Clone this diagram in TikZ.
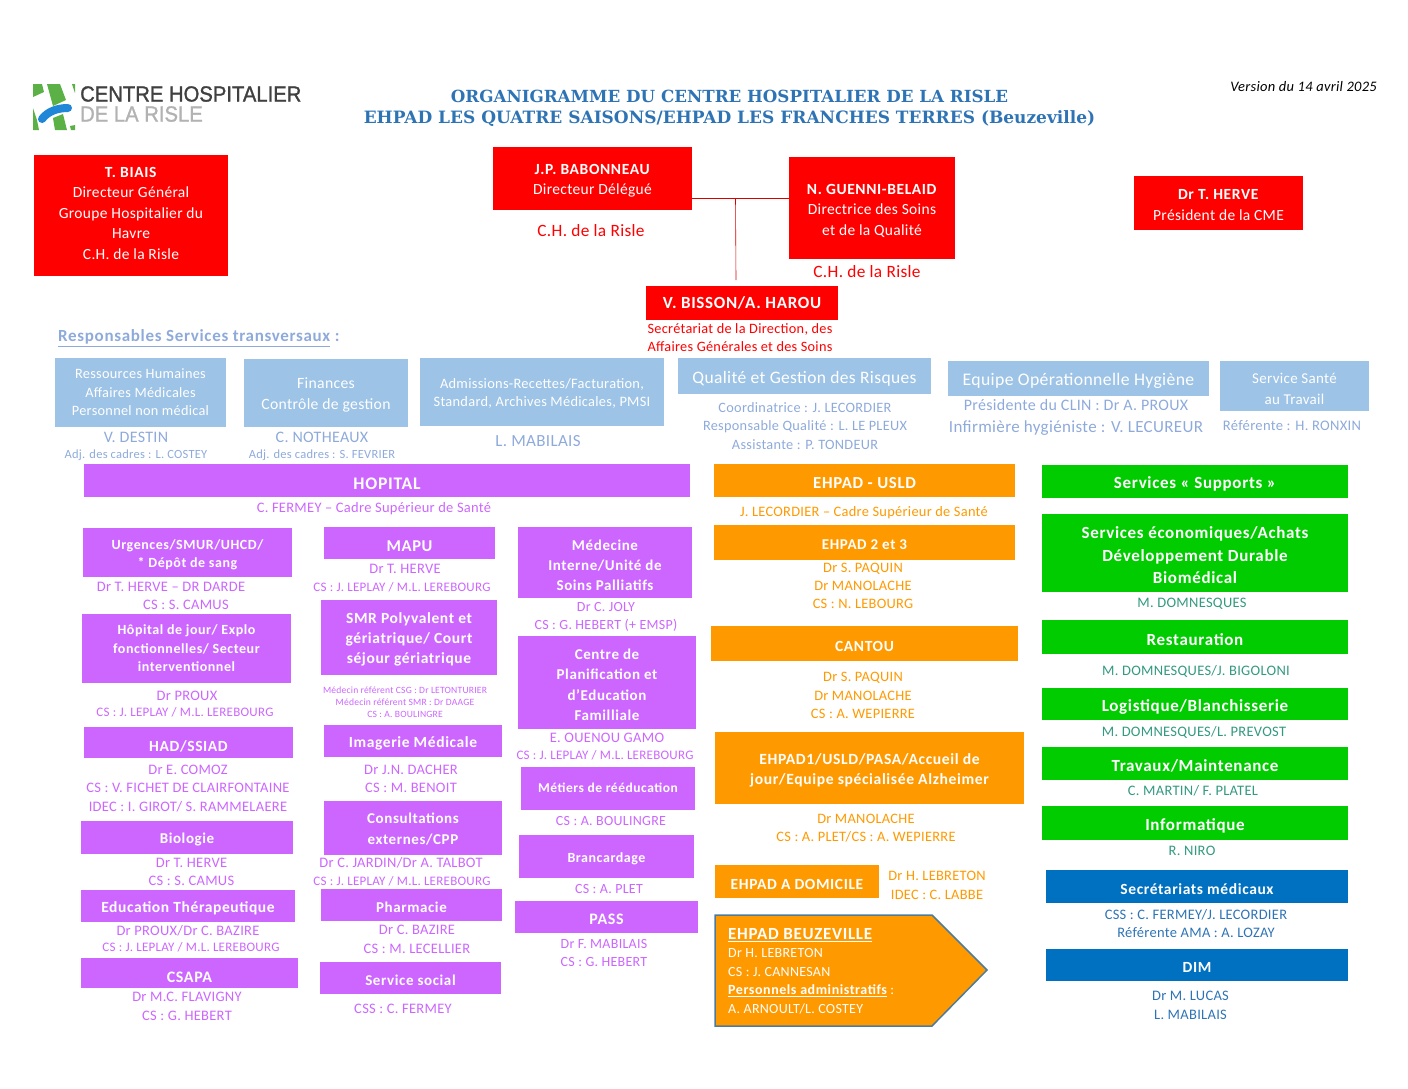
\documentclass[tikz,border=0pt]{standalone}
\usepackage{fontspec}
\setmainfont{Carlito}[LetterSpace=2, BoldFeatures={LetterSpace=4}]
\newfontfamily\titlefont{DejaVu Serif}
\newfontfamily\logofont{Liberation Sans}[FakeStretch=0.92, FakeBold=1.2]
\definecolor{hopred}{HTML}{FF0000}
\definecolor{hopviolet}{HTML}{CC66FF}
\definecolor{hoporange}{HTML}{FF9900}
\definecolor{hopgreen}{HTML}{00CC00}
\definecolor{hopblue}{HTML}{0070C0}
\definecolor{transblue}{HTML}{9DC3E6}
\definecolor{transtext}{HTML}{8EAADB}
\definecolor{greentext}{HTML}{339980}
\definecolor{bluetext}{HTML}{2E74B5}
\definecolor{logogreen}{HTML}{5BB146}
\definecolor{logoblue}{HTML}{1F86D8}
\tikzset{
  fs/.style 2 args={font=\fontsize{#1}{#2}\selectfont},
  fsb/.style 2 args={font=\fontsize{#1}{#2}\selectfont\bfseries},
  strutup/.style={execute at begin node={\rule{0pt}{#1pt}}},
  box/.style 2 args={inner sep=0pt, align=center, text=white, minimum width=#1pt, minimum height=#2pt, execute at begin node={\rule{0pt}{1em}}},
  redbox/.style 2 args={box={#1}{#2}, fill=hopred},
  transbox/.style 2 args={box={#1}{#2}, fill=transblue},
  violetbox/.style 2 args={box={#1}{#2}, fill=hopviolet},
  orangebox/.style 2 args={box={#1}{#2}, fill=hoporange},
  greenbox/.style 2 args={box={#1}{#2}, fill=hopgreen},
  bluebox/.style 2 args={box={#1}{#2}, fill=hopblue},
  lbl/.style={inner sep=0pt, align=center, yshift=-1pt},
  redlbl/.style={lbl, text=hopred},
  translbl/.style={lbl, text=transtext},
  violetlbl/.style={lbl, text=hopviolet},
  orangelbl/.style={lbl, text=hoporange},
  greenlbl/.style={lbl, text=greentext},
  bluelbl/.style={lbl, text=bluetext}
}
\begin{document}
\begin{tikzpicture}[x=1pt, y=-1pt]
    \useasboundingbox (0,0) rectangle (1408,1088);
    % logo
    \fill[logogreen] (33,84) -- (42,84) -- (44,92) -- (33,97) -- cycle;
    \fill[logogreen] (47,84) -- (60,84) -- (66,100) -- (53,106) -- cycle;
    \fill[logogreen] (72,84) -- (75,84) -- (75,93) -- cycle;
    \fill[logogreen] (33,108) -- (37,120) -- (39,130) -- (33,130) -- cycle;
    \fill[logogreen] (53,118) -- (63,114) -- (67,130) -- (55,130) -- cycle;
    \fill[logogreen] (70,126) -- (75,125) -- (75,130) -- (71,130) -- cycle;
    \draw[logoblue, line width=8pt, line cap=round] (42,119) .. controls (48,111) and (58,108) .. (68,108);
    \node[lbl, anchor=west, text=black!75, font=\logofont\fontsize{22}{24}\selectfont] (logoname) at (80,93) {CENTRE HOSPITALIER};
    \node[lbl, anchor=west, text=black!30, font=\logofont\fontsize{22}{24}\selectfont] (logorisle) at (80,113) {DE LA RISLE};
    % titre
    \node[lbl, text=bluetext, font=\titlefont\fontsize{17}{21}\selectfont\bfseries] (title) at (729.5,107) {{\fontsize{16.7}{21}\selectfont ORGANIGRAMME DU CENTRE HOSPITALIER DE LA RISLE}\\EHPAD LES QUATRE SAISONS/EHPAD LES FRANCHES TERRES (Beuzeville)};
    \node[lbl, anchor=east, fs={14.5}{17}] (version) at (1377,86) {\itshape Version du 14 avril 2025};
    % direction
    \node[redbox={194}{121}, fs={15.5}{20.5}] (biais) at (131,215.5) {\textbf{T. BIAIS}\\Directeur Général\\Groupe Hospitalier du\\Havre\\C.H. de la Risle\rule[-5pt]{0pt}{0pt}};
    \node[redbox={199}{63}, fs={15.5}{20}, strutup=35.3] (babonneau) at (592.5,178.5) {\textbf{J.P. BABONNEAU}\\Directeur Délégué};
    \node[redlbl, fs={17.3}{20}] (babonneaulieu) at (591,230) {C.H. de la Risle};
    \node[redbox={166}{102}, fs={15.5}{20.4}, strutup=56.1] (guenni) at (872,208) {\textbf{N. GUENNI-BELAID}\\Directrice des Soins\\et de la Qualité};
    \node[redlbl, fs={17.3}{20}] (guennilieu) at (867,271) {C.H. de la Risle};
    \node[redbox={169}{54}, fs={15.5}{20.4}, strutup=34.7] (herve) at (1218.5,203) {\textbf{Dr T. HERVE}\\Président de la CME};
    \node[redbox={192}{34}, fsb={17}{20}] (bisson) at (742,303) {V. BISSON/A. HAROU\rule[-7pt]{0pt}{0pt}};
    \node[redlbl, fs={14.3}{18}] (bissonlieu) at (740,337) {Secrétariat de la Direction, des\\Affaires Générales et des Soins};
    \coordinate (junction) at (735.5,198);
    \coordinate (bissontop) at (736,280);
    \draw[hopred!85!black, line width=0.6pt] (junction -| babonneau.east) -- (junction -| guenni.west);
    \draw[hopred!85!black, line width=0.6pt] (junction) -- (bissontop);
    % services transversaux
    \node[translbl, anchor=west, fsb={17}{20}] (transversaux) at (58,337) {\underline{Responsables Services transversaux} :};
    \node[transbox={171}{69}, fs={14.3}{18.5}] (rh) at (140.5,392.5) {Ressources Humaines\\Affaires Médicales\\Personnel non médical};
    \node[transbox={164}{68}, fs={15.7}{21}, strutup=36.5] (finances) at (326,393) {Finances\\Contrôle de gestion};
    \node[transbox={244}{68}, fs={14.4}{18}, strutup=30.5] (admissions) at (542,392) {Admissions-Recettes/Facturation,\\Standard, Archives Médicales, PMSI};
    \node[transbox={253}{36}, fs={17.5}{20}] (qualite) at (804.5,376) {Qualité et Gestion des Risques};
    \node[transbox={261}{35}, fs={17.7}{20}] (hygiene) at (1078.5,378.5) {Equipe Opérationnelle Hygiène};
    \node[transbox={149}{50}, fs={15}{21}, strutup=38] (sante) at (1294.5,386) {Service Santé\\au Travail};
    \node[translbl, fs={16}{18}] (destin) at (136,436) {V. DESTIN};
    \node[translbl, fs={12.5}{15}] (costey) at (136,454) {Adj. des cadres : L. COSTEY};
    \node[translbl, fs={16}{18}] (notheaux) at (322,436) {C. NOTHEAUX};
    \node[translbl, fs={12.5}{15}] (fevrier) at (322,454) {Adj. des cadres : S. FEVRIER};
    \node[translbl, fs={17}{20}] (mabilais) at (538,440) {L. MABILAIS};
    \node[translbl, fs={14.3}{18.5}] (lecordier) at (805,425) {Coordinatrice : J. LECORDIER\\Responsable Qualité : L. LE PLEUX\\Assistante : P. TONDEUR};
    \node[translbl, fs={16}{22}] (proux) at (1076,416.5) {Présidente du CLIN : Dr A. PROUX\\{\fontsize{17}{22}\selectfont Infirmière hygiéniste : V. LECUREUR}};
    \node[translbl, fs={14.6}{17}] (ronxin) at (1292,425) {Référente : H. RONXIN};
    % hopital
    \node[violetbox={606}{33}, fsb={17.7}{20}] (hopital) at (387,480.5) {HOPITAL};
    \node[violetlbl, fs={14.5}{17}] (fermey) at (374,508) {C. FERMEY – Cadre Supérieur de Santé};
    \node[violetbox={209}{49}, fsb={14}{18}, strutup=32.2] (urgences) at (187.5,552.5) {Urgences/SMUR/UHCD/\\* Dépôt de sang};
    \node[violetlbl, fs={14.5}{17}] (urgencesdr) at (171,586) {Dr T. HERVE – DR DARDE};
    \node[violetlbl, fs={14.5}{17}] (urgencescs) at (186,604) {CS : S. CAMUS};
    \node[violetbox={209}{69}, fsb={14}{18.5}] (hdj) at (186.5,648.5) {Hôpital de jour/ Explo\\fonctionnelles/ Secteur\\interventionnel};
    \node[violetlbl, fs={14.5}{17}] (hdjdr) at (187,695) {Dr PROUX};
    \node[violetlbl, fs={13}{16}] (hdjcs) at (185,711.5) {CS : J. LEPLAY / M.L. LEREBOURG};
    \node[violetbox={209}{31}, fsb={15.5}{19}, strutup=19.5] (had) at (188.5,742.5) {HAD/SSIAD};
    \node[violetlbl, fs={14.5}{18.5}] (haddr) at (188,787.5) {Dr E. COMOZ\\CS : V. FICHET DE CLAIRFONTAINE\\IDEC : I. GIROT/ S. RAMMELAERE};
    \node[violetbox={212}{33}, fsb={15}{18}] (biologie) at (187,837.5) {Biologie};
    \node[violetlbl, fs={14.5}{18}] (biologiedr) at (191.5,871) {Dr T. HERVE\\CS : S. CAMUS};
    \node[violetbox={214}{32}, fsb={15.5}{18}] (education) at (188,906) {Education Thérapeutique};
    \node[violetlbl, fs={14.5}{17}] (educationdr) at (188,930) {Dr PROUX/Dr C. BAZIRE};
    \node[violetlbl, fs={13}{15}] (educationcs) at (191,946) {CS : J. LEPLAY / M.L. LEREBOURG};
    \node[violetbox={217}{30}, fsb={16}{19}, strutup=20] (csapa) at (189.5,973) {CSAPA};
    \node[violetlbl, fs={14.5}{19}] (csapadr) at (187,1005.5) {Dr M.C. FLAVIGNY\\CS : G. HEBERT};
    \node[violetbox={171}{32}, fsb={16.5}{19}] (mapu) at (409.5,543) {MAPU};
    \node[violetlbl, fs={14.5}{17}] (mapudr) at (405,568) {Dr T. HERVE};
    \node[violetlbl, fs={13}{15}] (mapucs) at (402,586) {CS : J. LEPLAY / M.L. LEREBOURG};
    \node[violetbox={176}{75}, fsb={15.5}{20}, strutup=55.3] (smr) at (409,637.5) {SMR Polyvalent et\\gériatrique/ Court\\séjour gériatrique};
    \node[violetlbl, fs={9.6}{12}] (smrdr) at (405,701) {Médecin référent CSG : Dr LETONTURIER\\Médecin référent SMR : Dr DAAGE\\CS : A. BOULINGRE};
    \node[violetbox={178}{32}, fsb={15.5}{18}] (imagerie) at (413,741) {Imagerie Médicale};
    \node[violetlbl, fs={14.5}{18}] (imageriedr) at (411,778) {Dr J.N. DACHER\\CS : M. BENOIT};
    \node[violetbox={178}{54}, fsb={15}{21}, strutup=34] (consult) at (413,828) {Consultations\\externes/CPP};
    \node[violetlbl, fs={14.5}{17}] (consultdr) at (401,862) {Dr C. JARDIN/Dr A. TALBOT};
    \node[violetlbl, fs={13}{15}] (consultcs) at (402,880) {CS : J. LEPLAY / M.L. LEREBOURG};
    \node[violetbox={181}{32}, fsb={15}{18}] (pharmacie) at (411.5,905) {Pharmacie};
    \node[violetlbl, fs={14.5}{19}] (pharmaciedr) at (417,938.5) {Dr C. BAZIRE\\CS : M. LECELLIER};
    \node[violetbox={181}{32}, fsb={15}{18}] (social) at (410.5,978) {Service social};
    \node[violetlbl, fs={14.5}{17}] (socialcs) at (403,1008) {CSS : C. FERMEY};
    \node[violetbox={174}{71}, fsb={15}{20}, strutup=57] (medecine) at (605,562.5) {Médecine\\Interne/Unité de\\Soins Palliatifs};
    \node[violetlbl, fs={14}{18}] (medecinedr) at (606,616) {Dr C. JOLY\\CS : G. HEBERT (+ EMSP)};
    \node[violetbox={178}{93}, fsb={15}{20.4}, strutup=76.2] (planif) at (607,682.5) {Centre de\\Planification et\\d’Education\\Familliale};
    \node[violetlbl, fs={14.5}{17}] (planifdr) at (607,737) {E. OUENOU GAMO};
    \node[violetlbl, fs={13}{15}] (planifcs) at (605,754) {CS : J. LEPLAY / M.L. LEREBOURG};
    \node[violetbox={174}{43}, fsb={13.5}{16}] (metiers) at (608,788.5) {Métiers de rééducation\rule[-6pt]{0pt}{0pt}};
    \node[violetlbl, fs={14}{17}] (metierscs) at (611,820) {CS : A. BOULINGRE};
    \node[violetbox={175}{43}, fsb={14}{16}] (brancard) at (606.5,856.5) {Brancardage};
    \node[violetlbl, fs={14}{17}] (brancardcs) at (609,888) {CS : A. PLET};
    \node[violetbox={183}{32}, fsb={16}{19}] (pass) at (606.5,917) {PASS};
    \node[violetlbl, fs={14}{18}] (passdr) at (604,952) {Dr F. MABILAIS\\CS : G. HEBERT};
    % ehpad
    \node[orangebox={301}{33}, fsb={16.8}{19}] (usld) at (864.5,480.5) {EHPAD - USLD};
    \node[orangelbl, fs={14.4}{17}] (usldcs) at (864,512) {J. LECORDIER – Cadre Supérieur de Santé};
    \node[orangebox={301}{35}, fsb={15}{18}] (ehpadtwo) at (864.5,542.5) {EHPAD 2 et 3};
    \node[orangelbl, fs={14.4}{18}] (ehpadtwodr) at (863,585) {Dr S. PAQUIN\\Dr MANOLACHE\\CS : N. LEBOURG};
    \node[orangebox={307}{35}, fsb={15.5}{18}] (cantou) at (864.5,643.5) {CANTOU};
    \node[orangelbl, fs={14.4}{18.5}] (cantoudr) at (863,694.5) {Dr S. PAQUIN\\Dr MANOLACHE\\CS : A. WEPIERRE};
    \node[orangebox={309}{72}, fsb={15.6}{20}, strutup=35.4] (ehpadone) at (869.5,768) {EHPAD1/USLD/PASA/Accueil de\\jour/Equipe spécialisée Alzheimer};
    \node[orangelbl, fs={14.4}{18}] (ehpadonedr) at (866,827.5) {Dr MANOLACHE\\CS : A. PLET/CS : A. WEPIERRE};
    \node[orangebox={164}{33}, fsb={15.5}{18}] (domicile) at (797,881.5) {EHPAD A DOMICILE};
    \node[orangelbl, fs={14.4}{19}] (domiciledr) at (937,884.5) {Dr H. LEBRETON\\IDEC : C. LABBE};
    \fill[hoporange, draw=hopblue!60!black!70, line width=1.5pt] (715,915) -- (932,915) -- (987,970) -- (932,1026) -- (715,1026) -- cycle;
    \node[lbl, anchor=north west, align=left, text=white, fs={14}{18.5}] (beuzeville) at (728,927) {{\fontsize{17}{20}\selectfont\textbf{\underline{EHPAD BEUZEVILLE}}}\\Dr H. LEBRETON\\CS : J. CANNESAN\\\textbf{\underline{Personnels administratifs}} :\\A. ARNOULT/L. COSTEY};
    % supports
    \node[greenbox={306}{33}, fsb={17}{19}] (supports) at (1195,481.5) {Services « Supports »};
    \node[greenbox={306}{78}, fsb={17}{22.4}, strutup=61.2] (eco) at (1195,553) {Services économiques/Achats\\Développement Durable\\Biomédical};
    \node[greenlbl, fs={14.5}{17}] (ecodr) at (1192,603) {M. DOMNESQUES};
    \node[greenbox={306}{34}, fsb={17}{19}] (restau) at (1195,637) {Restauration};
    \node[greenlbl, fs={14.5}{17}] (restaudr) at (1196,670) {M. DOMNESQUES/J. BIGOLONI};
    \node[greenbox={306}{32}, fsb={17}{19}] (logistique) at (1195,704) {Logistique/Blanchisserie};
    \node[greenlbl, fs={14.5}{17}] (logistiquedr) at (1194,731) {M. DOMNESQUES/L. PREVOST};
    \node[greenbox={306}{33}, fsb={17}{19}] (travaux) at (1195,763.5) {Travaux/Maintenance};
    \node[greenlbl, fs={14.5}{17}] (travauxdr) at (1193,790) {C. MARTIN/ F. PLATEL};
    \node[greenbox={306}{34}, fsb={17}{19}] (info) at (1195,823) {Informatique};
    \node[greenlbl, fs={14.5}{17}] (infodr) at (1192,850) {R. NIRO};
    \node[bluebox={302}{33}, fsb={15.5}{18}] (secretariats) at (1197,886.5) {Secrétariats médicaux};
    \node[bluelbl, fs={14.5}{18}] (secretariatsdr) at (1196,923) {CSS : C. FERMEY/J. LECORDIER\\Référente AMA : A. LOZAY};
    \node[bluebox={302}{32}, fsb={15.5}{18}] (dim) at (1197,965) {DIM};
    \node[bluelbl, fs={14.5}{19}] (dimdr) at (1190.5,1004.5) {Dr M. LUCAS\\L. MABILAIS};
\end{tikzpicture}
\end{document}
